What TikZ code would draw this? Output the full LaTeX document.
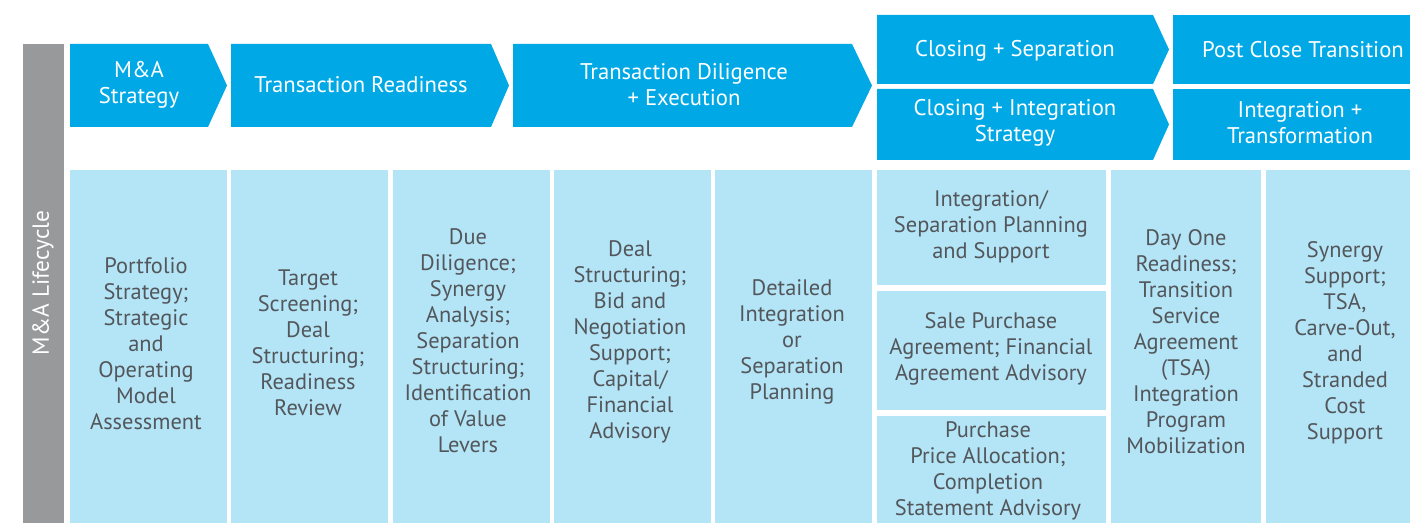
\documentclass[tikz,border=0pt]{standalone}
\usepackage{fontspec}
\setmainfont{PT Sans}

\definecolor{phaseblue}{HTML}{00A9E6}
\definecolor{taskblue}{HTML}{B3E5F7}
\definecolor{lifegray}{HTML}{97999B}
\definecolor{taskgray}{HTML}{53565A}

% arrow shaped phase box: left, top, right, bottom, tip
\newcommand{\phasebox}[5]{%
  \fill[phaseblue] (#1,#2) -- (#3,#2) -- (#5,{(#2+#4)/2}) -- (#3,#4) -- (#1,#4) -- cycle;}

\tikzset{
  phase/.style={font=\fontsize{17}{19.5}\selectfont, text=white, align=center},
  task/.style={font=\fontsize{16.8}{19.5}\selectfont, text=taskgray, align=center}
}

\begin{document}
\begin{tikzpicture}[x=0.75pt, y=-0.75pt]
		\useasboundingbox (0,0) rectangle (1410,523);
		% side bar
		\fill[lifegray] (23,44) rectangle (64,523);
		\node (cycle) at (43,283) [rotate=90, text=white, font=\fontsize{17.5}{19}\selectfont] {M\&A Lifecycle};
		% phases
		\phasebox{70}{44}{208}{127}{227}
		\phasebox{231}{44}{491}{127}{509}
		\phasebox{513}{44}{852}{127}{872}
		\phasebox{877}{15}{1153}{84}{1169}
		\phasebox{877}{89}{1153}{160}{1169}
		\fill[phaseblue] (1173,15) rectangle (1410,84);
		\fill[phaseblue] (1173,89) rectangle (1410,160);
		\node (strategy) at (139,85) [phase] {M\&A\\Strategy};
		\node (readiness) at (361,85) [phase] {Transaction Readiness};
		\node (diligence) at (684,85) [phase] {Transaction Diligence\\+ Execution};
		\node (separation) at (1015,51) [phase] {Closing + Separation};
		\node (closing) at (1015,123) [phase] {Closing + Integration\\Strategy};
		\node (postclose) at (1303,50) [phase] {Post Close Transition};
		\node (transform) at (1300,123) [phase] {Integration +\\Transformation};
		% tasks
		\fill[taskblue] (70,170) rectangle (227,523);
		\fill[taskblue] (231,170) rectangle (388,523);
		\fill[taskblue] (393,170) rectangle (550,523);
		\fill[taskblue] (554,170) rectangle (711,523);
		\fill[taskblue] (715,170) rectangle (872,523);
		\fill[taskblue] (877,170) rectangle (1106,285);
		\fill[taskblue] (877,291) rectangle (1106,410);
		\fill[taskblue] (877,416) rectangle (1106,523);
		\fill[taskblue] (1111,170) rectangle (1261,523);
		\fill[taskblue] (1266,170) rectangle (1410,523);
		\node (portfolio) at (146,344) [task] {Portfolio\\Strategy;\\Strategic\\and\\Operating\\Model\\Assessment};
		\node (target) at (308,343) [task] {Target\\Screening;\\Deal\\Structuring;\\Readiness\\Review};
		\node (duedil) at (468,341) [task] {Due\\Diligence;\\Synergy\\Analysis;\\Separation\\Structuring;\\Identification\\of Value\\Levers};
		\node (dealstr) at (630,342) [task] {Deal\\Structuring;\\Bid and\\Negotiation\\Support;\\Capital/\\Financial\\Advisory};
		\node (detailed) at (792,342) [task] {Detailed\\Integration\\or\\Separation\\Planning};
		\node (planning) at (991,227) [task] {Integration/\\Separation Planning\\and Support};
		\node (sale) at (991,349) [task] {Sale Purchase\\Agreement; Financial\\Agreement Advisory};
		\node (ppa) at (988,471) [task] {Purchase\\Price Allocation;\\Completion\\Statement Advisory};
		\node (dayone) at (1186,342) [task] {Day One\\Readiness;\\Transition\\Service\\Agreement\\(TSA)\\Integration\\Program\\Mobilization};
		\node (synergy) at (1345,343) [task] {Synergy\\Support;\\TSA,\\Carve-Out,\\and\\Stranded\\Cost\\Support};
\end{tikzpicture}
\end{document}
